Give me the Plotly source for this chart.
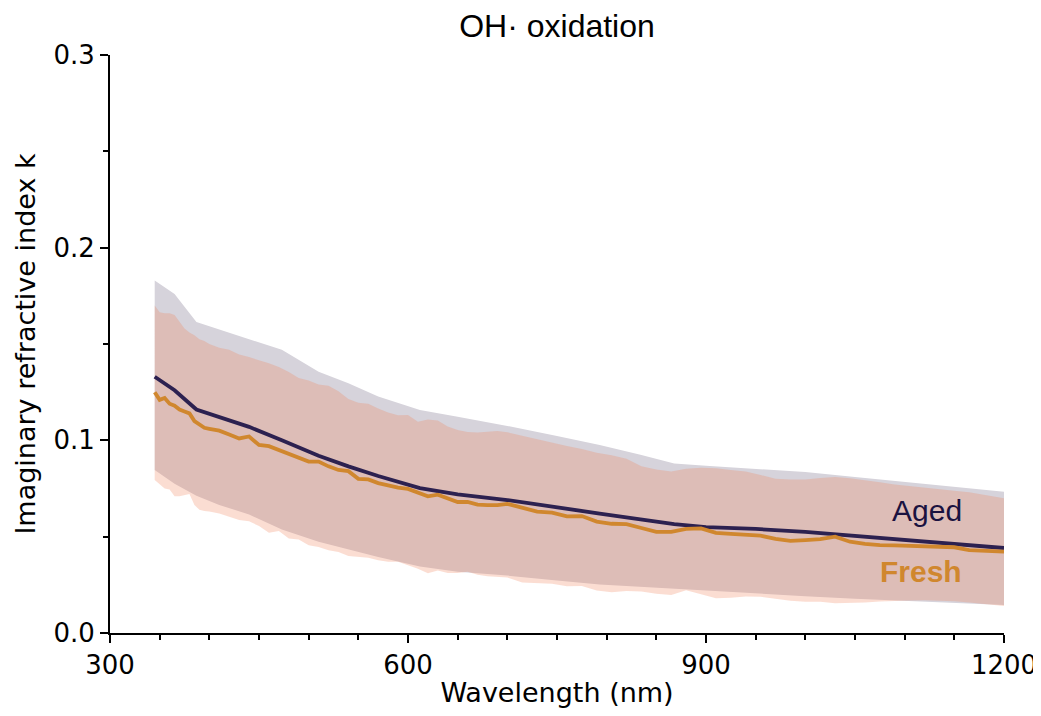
import plotly.graph_objects as go

# ---------------- data ----------------
fresh_wl = [345, 350, 355, 360, 365, 370, 375, 380, 385, 390, 395, 400,
            410, 420, 430, 440, 450, 460, 470, 480, 490, 500, 510, 520, 530, 540,
            550, 560, 570, 580, 590, 600, 610, 620, 630, 640, 650, 660, 670, 680,
            690, 700, 715, 730, 745, 760, 775, 790, 805, 820, 835, 850, 865, 880,
            895, 910, 925, 940, 955, 970, 985, 1000, 1015, 1030, 1045, 1060, 1075,
            1090, 1105, 1120, 1135, 1150, 1165, 1180, 1200]
fresh_k = [0.125, 0.121, 0.122, 0.119, 0.118, 0.116, 0.115, 0.114, 0.110, 0.108, 0.1065, 0.106,
           0.105, 0.103, 0.101, 0.102, 0.0976, 0.097, 0.095, 0.093, 0.091, 0.089, 0.089, 0.0865,
           0.0846, 0.084, 0.080, 0.0797, 0.0778, 0.0765, 0.0755, 0.0748, 0.073, 0.0709, 0.0718,
           0.070, 0.068, 0.068, 0.0666, 0.0664, 0.0664, 0.067, 0.065, 0.063, 0.0625, 0.0605,
           0.0607, 0.0578, 0.0567, 0.0565, 0.0545, 0.0525, 0.0525, 0.054, 0.0543, 0.052, 0.0515,
           0.051, 0.0505, 0.0488, 0.0478, 0.0482, 0.0487, 0.050, 0.0474, 0.0463, 0.0456, 0.0455,
           0.0453, 0.0452, 0.0451, 0.0445, 0.043, 0.0427, 0.0422]
fresh_upper = [0.170, 0.1665, 0.166, 0.166, 0.165, 0.1616, 0.158, 0.156, 0.1545, 0.1525, 0.1515, 0.150,
               0.148, 0.147, 0.1445, 0.1432, 0.1418, 0.140, 0.138, 0.1355, 0.1323, 0.131, 0.129,
               0.1283, 0.1255, 0.1215, 0.1195, 0.119, 0.1165, 0.1145, 0.113, 0.1132, 0.1097, 0.1108,
               0.1103, 0.1072, 0.1053, 0.1043, 0.1041, 0.1046, 0.1048, 0.1042, 0.1024, 0.1007, 0.0987,
               0.097, 0.0955, 0.0935, 0.0922, 0.0905, 0.0865, 0.0848, 0.0838, 0.0852, 0.0858, 0.0855,
               0.0846, 0.0838, 0.082, 0.080, 0.0797, 0.0797, 0.0804, 0.081, 0.0803, 0.0794, 0.0782,
               0.0771, 0.0762, 0.0754, 0.0745, 0.0738, 0.0731, 0.0718, 0.0699]
fresh_lower = [0.0794, 0.077, 0.075, 0.0745, 0.071, 0.071, 0.0716, 0.0722, 0.0665, 0.064, 0.0633, 0.063,
               0.062, 0.0605, 0.0586, 0.058, 0.0555, 0.052, 0.053, 0.049, 0.0485, 0.0455, 0.0447,
               0.043, 0.042, 0.040, 0.0396, 0.039, 0.0378, 0.037, 0.037, 0.0353, 0.0333, 0.031,
               0.0325, 0.0312, 0.0312, 0.0318, 0.0302, 0.0295, 0.029, 0.0288, 0.0262, 0.0258, 0.0255,
               0.0242, 0.0244, 0.022, 0.0211, 0.0218, 0.0216, 0.0204, 0.0197, 0.0222, 0.0199, 0.018,
               0.0183, 0.019, 0.0188, 0.0178, 0.0168, 0.0162, 0.0162, 0.0155, 0.0155, 0.0158, 0.0163,
               0.0167, 0.0169, 0.017, 0.0168, 0.0165, 0.0158, 0.0152, 0.014]

aged_wl = [345, 365, 387, 410, 440, 473, 510, 540, 570, 612, 650, 700, 750, 793, 834, 868,
           900, 950, 1000, 1050, 1100, 1150, 1200]
aged_k = [0.133, 0.126, 0.116, 0.112, 0.107, 0.100, 0.092, 0.0865, 0.0815, 0.0752, 0.072, 0.069,
          0.065, 0.062, 0.059, 0.0565, 0.055, 0.054, 0.0525, 0.0505, 0.0485, 0.0465, 0.0441]
aged_upper = [0.183, 0.176, 0.1614, 0.1576, 0.1525, 0.147, 0.1356, 0.1296, 0.1227, 0.1157, 0.1122,
              0.1075, 0.1022, 0.0976, 0.0925, 0.088, 0.0868, 0.0852, 0.0835, 0.081, 0.0785, 0.0759,
              0.0733]
aged_lower = [0.0846, 0.0775, 0.0712, 0.0665, 0.0615, 0.0537, 0.0474, 0.0433, 0.0395, 0.0345, 0.0318,
              0.0298, 0.0272, 0.0252, 0.024, 0.0232, 0.0222, 0.0206, 0.0191, 0.0178, 0.0166, 0.0155,
              0.0145]

x_ticks = [300, 600, 900, 1200]
y_ticks = [0.0, 0.1, 0.2, 0.3]

AGED_COLOR = "#2c2150"
FRESH_COLOR = "#d0872e"
AGED_FILL = "rgb(214,211,219)"
FRESH_FILL = "rgba(240,130,89,0.27)"

fig = go.Figure()

# Aged uncertainty band
fig.add_trace(go.Scatter(x=aged_wl + aged_wl[::-1], y=aged_upper + aged_lower[::-1],
                         fill="toself", fillcolor=AGED_FILL, mode="lines",
                         line=dict(width=0), hoverinfo="skip", showlegend=False))
# Fresh uncertainty band
fig.add_trace(go.Scatter(x=fresh_wl + fresh_wl[::-1], y=fresh_upper + fresh_lower[::-1],
                         fill="toself", fillcolor=FRESH_FILL, mode="lines",
                         line=dict(width=0), hoverinfo="skip", showlegend=False))
# Lines
fig.add_trace(go.Scatter(x=aged_wl, y=aged_k, mode="lines", name="Aged",
                         line=dict(color=AGED_COLOR, width=3.8), showlegend=False))
fig.add_trace(go.Scatter(x=fresh_wl, y=fresh_k, mode="lines", name="Fresh",
                         line=dict(color=FRESH_COLOR, width=3.8), showlegend=False))

fig.add_annotation(x=1122, y=0.0635, xref="x", yref="y", text="Aged", showarrow=False,
                   font=dict(family="Liberation Sans, Arial", size=30, color="#1a1240"),
                   xanchor="center", yanchor="middle")
fig.add_annotation(x=1116, y=0.0318, xref="x", yref="y", text="<b>Fresh</b>", showarrow=False,
                   font=dict(family="Liberation Sans, Arial", size=30, color=FRESH_COLOR),
                   xanchor="center", yanchor="middle")

tick_font = dict(family="DejaVu Sans", size=26, color="black")
title_font = dict(family="DejaVu Sans", size=27, color="black")

fig.update_layout(
    width=1041, height=716,
    margin=dict(l=102, r=45, t=47, b=91),
    paper_bgcolor="white", plot_bgcolor="white",
    title=dict(text="OH· oxidation", x=0.5, xref="paper", xanchor="center",
               y=1 - 18 / 716, yref="container", yanchor="middle",
               font=dict(family="Liberation Sans, Arial", size=32, color="black")),
    xaxis=dict(range=[300, 1200], tickvals=x_ticks, ticktext=[str(v) for v in x_ticks],
               showline=True, linecolor="black", linewidth=2, mirror=False,
               ticks="outside", ticklen=8, tickwidth=2, tickcolor="black",
               minor=dict(ticks="outside", ticklen=5, tickwidth=1.5, tickcolor="black",
                          tick0=300, dtick=50),
               showgrid=False, zeroline=False, tickfont=tick_font,
               title=dict(text="Wavelength (nm)", font=title_font, standoff=4)),
    yaxis=dict(range=[0, 0.3], tickvals=y_ticks, ticktext=[f"{v:.1f}" for v in y_ticks],
               showline=True, linecolor="black", linewidth=2, mirror=False,
               ticks="outside", ticklen=8, tickwidth=2, tickcolor="black",
               minor=dict(ticks="outside", ticklen=5, tickwidth=1.5, tickcolor="black",
                          tick0=0, dtick=0.05),
               showgrid=False, zeroline=False, tickfont=tick_font,
               title=dict(text="Imaginary refractive index k", font=title_font, standoff=10)),
)

fig.write_html("out.html")
